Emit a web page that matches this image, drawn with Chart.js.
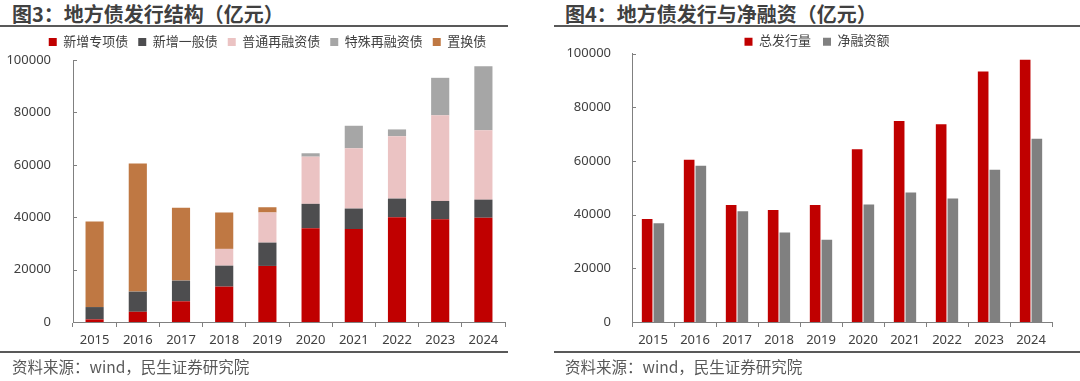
<!DOCTYPE html>
<html><head><meta charset="utf-8">
<script src="https://cdn.jsdelivr.net/npm/chart.js@4.4.1/dist/chart.umd.min.js"></script>
<style>
html,body{margin:0;padding:0;background:#fff;width:1080px;height:381px;overflow:hidden;}
.title{position:absolute;top:2px;font-family:"Noto Sans CJK SC",sans-serif;font-weight:bold;font-size:20px;color:#404040;line-height:24px;white-space:nowrap;}
.hr{position:absolute;height:2px;background:#595959;}
.src{position:absolute;top:356px;font-family:"Noto Sans CJK SC",sans-serif;font-size:15.5px;color:#595959;line-height:20px;white-space:nowrap;}
.box{position:absolute;}
canvas{display:block;}
</style></head>
<body>
<div class="title" style="left:12px">图3：地方债发行结构（亿元）</div>
<div class="hr" style="left:0;width:508px;top:25px"></div>
<div class="box" style="left:0;top:0;width:540px;height:352px"><canvas id="c1" width="540" height="352"></canvas></div>
<div class="hr" style="left:0;width:508px;top:351px"></div>
<div class="src" style="left:12px">资料来源：wind，民生证券研究院</div>

<div class="title" style="left:565px">图4：地方债发行与净融资（亿元）</div>
<div class="hr" style="left:554px;width:526px;top:25px"></div>
<div class="box" style="left:540px;top:0;width:540px;height:352px"><canvas id="c2" width="540" height="352"></canvas></div>
<div class="hr" style="left:554px;width:526px;top:351px"></div>
<div class="src" style="left:565px">资料来源：wind，民生证券研究院</div>

<script>
// ---- data ----
const years = ['2015','2016','2017','2018','2019','2020','2021','2022','2023','2024'];
const yTicks = [0, 20000, 40000, 60000, 80000, 100000];

// 图3 stacked
const newSpecial   = [1000, 3900, 7900, 13500, 21400, 35800, 35500, 40000, 39200, 39800];
const newGeneral   = [4700, 7700, 7900, 8000, 8900, 9300, 7800, 7100, 7000, 6900];
const refinance    = [0, 0, 0, 6400, 11500, 18000, 23000, 23800, 32700, 26500];
const specialRefi  = [0, 0, 0, 0, 0, 1300, 8600, 2600, 14300, 24400];
const replacement  = [32700, 48900, 27800, 13900, 2000, 0, 0, 0, 0, 0];

// 图4 grouped
const totalIssue   = [38400, 60500, 43600, 41700, 43600, 64400, 74900, 73700, 93400, 97700];
const netFinancing = [36800, 58200, 41300, 33400, 30700, 43800, 48300, 46000, 56700, 68300];

const FONT = '"Noto Sans","Noto Sans CJK SC",sans-serif';
const TXT = '#404040';
const AX = '#808080';

const shiftLegend = {
  id: 'shiftLegend',
  afterLayout(chart, args, opts) {
    const l = chart.legend; if (!l) return;
    const dx = opts.dx || 0, dy = opts.dy || 0;
    l.left += dx; l.right += dx; l.top += dy; l.bottom += dy;
  }
};
const innerTicks = {
  id: 'innerTicks',
  afterDraw(chart) {
    const y = chart.scales.y, ctx = chart.ctx, x0 = chart.chartArea.left;
    ctx.save(); ctx.strokeStyle = AX; ctx.lineWidth = 1;
    y.ticks.forEach(t => {
      const py = Math.round(y.getPixelForValue(t.value)) + 0.5;
      ctx.beginPath(); ctx.moveTo(x0, py); ctx.lineTo(x0 + 4, py); ctx.stroke();
    });
    ctx.restore();
  }
};

function yScale(width, pad, stacked) {
  return {
    stacked: stacked, min: 0, max: 100000,
    afterBuildTicks(s) { s.ticks = yTicks.map(v => ({value: v})); },
    afterFit(s) { s.width = width; },
    grid: {display: false},
    border: {display: true, color: AX, width: 1},
    ticks: {color: TXT, font: {family: FONT, size: 13}, padding: pad, callback: v => String(v)}
  };
}
function xScale(stacked) {
  return {
    stacked: stacked, offset: true,
    grid: {display: true, drawOnChartArea: false, drawTicks: true, tickLength: 5, color: AX, offset: true},
    border: {display: true, color: AX, width: 1},
    ticks: {color: TXT, font: {family: FONT, size: 13}, padding: 5, maxRotation: 0, autoSkip: false},
    afterFit(s) { s.height = 30; }
  };
}
function legendOpts(pad) {
  return {
    display: true, position: 'top', align: 'center',
    labels: {boxWidth: 8, boxHeight: 8, padding: pad, color: TXT, font: {family: FONT, size: 13}}
  };
}

Chart.defaults.animation = false;

new Chart(document.getElementById('c1'), {
  type: 'bar',
  data: {
    labels: years,
    datasets: [
      {label: '新增专项债', data: newSpecial, backgroundColor: '#C00000'},
      {label: '新增一般债', data: newGeneral, backgroundColor: '#4D4D4F'},
      {label: '普通再融资债', data: refinance, backgroundColor: '#EBC3C3'},
      {label: '特殊再融资债', data: specialRefi, backgroundColor: '#A6A6A6'},
      {label: '置换债', data: replacement, backgroundColor: '#BF7843'}
    ]
  },
  options: {
    responsive: false, devicePixelRatio: 1,
    barPercentage: 0.42, categoryPercentage: 1.0,
    layout: {padding: {left: 0, right: 35, top: 27, bottom: 0}},
    plugins: {legend: legendOpts(10), tooltip: {enabled: false}, shiftLegend: {dx: 15, dy: -1.5}},
    scales: {x: xScale(true), y: yScale(73, 14, true)}
  },
  plugins: [shiftLegend, innerTicks]
});

new Chart(document.getElementById('c2'), {
  type: 'bar',
  data: {
    labels: years,
    datasets: [
      {label: '总发行量', data: totalIssue, backgroundColor: '#C00000'},
      {label: '净融资额', data: netFinancing, backgroundColor: '#808080'}
    ]
  },
  options: {
    responsive: false, devicePixelRatio: 1,
    barPercentage: 0.91, categoryPercentage: 0.557,
    layout: {padding: {left: 0, right: 28, top: 18.7, bottom: 0}},
    plugins: {legend: legendOpts(12), tooltip: {enabled: false}, shiftLegend: {dx: 21, dy: 4.5}},
    scales: {x: xScale(false), y: yScale(92, 13, false)}
  },
  plugins: [shiftLegend, innerTicks]
});
</script>
</body></html>
